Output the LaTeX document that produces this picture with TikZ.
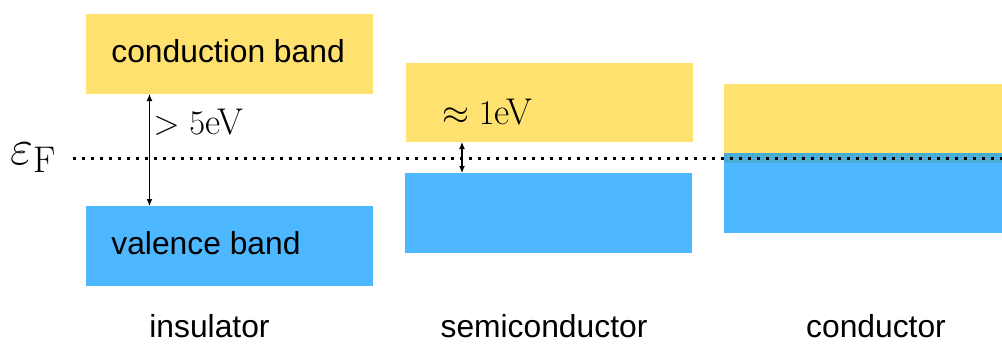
\documentclass[tikz,border=0pt]{standalone}
\usepackage{fontspec}
\setsansfont{Liberation Sans}
\usetikzlibrary{fit,arrows.meta}
\definecolor{cbyellow}{RGB}{254,225,111}
\definecolor{vbblue}{RGB}{77,184,255}
\definecolor{overlapblue}{RGB}{72,172,212}
\tikzset{
  band/.style={draw=none, inner sep=0pt, outer sep=0pt},
  cband/.style={band, fill=cbyellow},
  vband/.style={band, fill=vbblue},
  sanslabel/.style={font=\sffamily\fontsize{15.9}{18}\selectfont, inner sep=0pt, anchor=base west},
  bottomlabel/.style={font=\sffamily\fontsize{15.9}{18}\selectfont, inner sep=0pt, anchor=base},
  mathlabel/.style={font=\fontsize{18.6}{21}\selectfont, inner sep=0pt, anchor=base west},
  gap/.style={line width=0.6pt, {Latex[length=3.5pt,width=3pt]}-{Latex[length=3.5pt,width=3pt]}, shorten <=0pt, shorten >=0pt},
  fermi/.style={line width=1.5pt, dash pattern=on 1.5pt off 3pt}
}
\begin{document}
\begin{tikzpicture}[x=0.5pt,y=-0.5pt]
\useasboundingbox (0,0) rectangle (1002,343);
% insulator
\coordinate (ic1) at (86,14); \coordinate (ic2) at (373,94);
\coordinate (iv1) at (86,206); \coordinate (iv2) at (373,286);
\node[cband, fit=(ic1)(ic2)] (icb) {};
\node[vband, fit=(iv1)(iv2)] (ivb) {};
% semiconductor
\coordinate (sc1) at (406,63); \coordinate (sc2) at (693,142);
\coordinate (sv1) at (405,173); \coordinate (sv2) at (692,253);
\node[cband, fit=(sc1)(sc2)] (scb) {};
\node[vband, fit=(sv1)(sv2)] (svb) {};
% conductor
\coordinate (cc1) at (724,84); \coordinate (cc2) at (1002,153);
\coordinate (cv1) at (724,153); \coordinate (cv2) at (1002,233);
\coordinate (co1) at (724,153); \coordinate (co2) at (1002,163);
\node[cband, fit=(cc1)(cc2)] (ccb) {};
\node[vband, fit=(cv1)(cv2)] (cvb) {};
\node[band, fill=overlapblue, fit=(co1)(co2)] (cov) {};
% band labels
\node[sanslabel] (cblabel) at (111,62) {conduction band};
\node[sanslabel] (vblabel) at (111,254) {valence band};
% Fermi level
\node[inner sep=0pt, anchor=base west, font=\fontsize{26.5}{30}\selectfont] (ef) at (10,164) {$\varepsilon_{\mathrm{F}}$};
\coordinate (fend) at (1002,158);
\draw[fermi] (73,158) coordinate (fstart) -- (fend);
% gaps
\draw[gap] (icb.south -| 149.5,0) -- (ivb.north -| 149.5,0);
\node[mathlabel] (g1) at (153,134) {$>5$eV};
\draw[gap] (scb.south -| 462,0) -- (svb.north -| 462,0);
\node[mathlabel] (g2) at (442,124) {$\approx1$eV};
% bottom labels
\node[bottomlabel] (lins) at (209.5,337) {insulator};
\node[bottomlabel] (lsemi) at (544,337) {semiconductor};
\node[bottomlabel] (lcond) at (876,337) {conductor};
\end{tikzpicture}
\end{document}
